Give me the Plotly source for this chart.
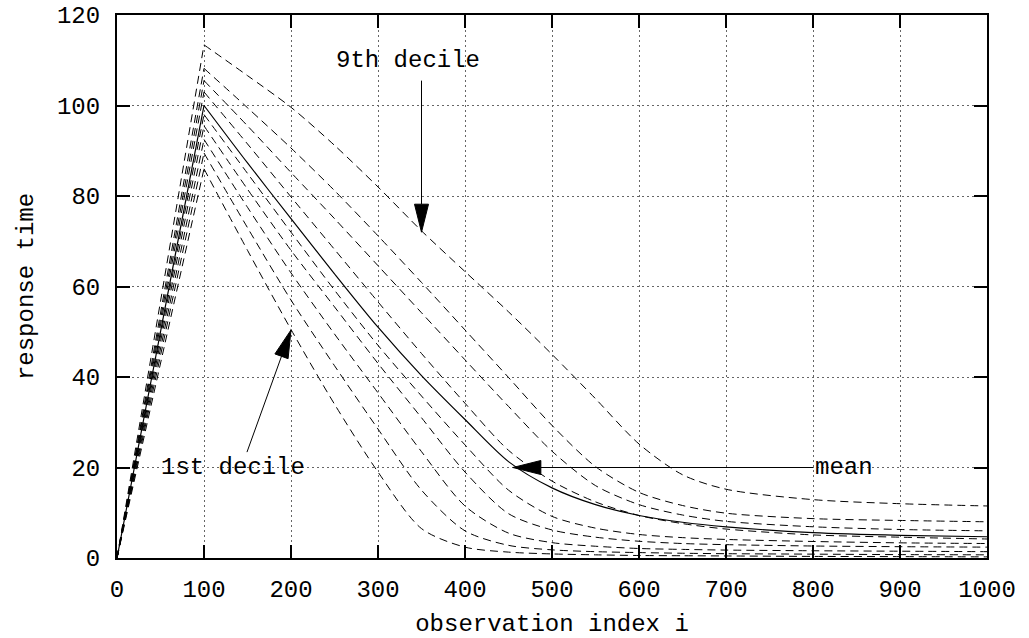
import plotly.graph_objects as go

# observation index grid (x) at which the curves were read
obs_index = [0, 100, 150, 200, 250, 300, 350, 400, 450, 500, 550, 600, 650, 700, 800, 900, 1000]

# deciles (dashed) and mean (solid) of response time
decile_1 = [0, 86, 68, 50.5, 34, 19, 6.5, 2.4, 1.3, 0.9, 0.7, 0.55, 0.5, 0.45, 0.35, 0.3, 0.25]
decile_2 = [0, 89.5, 73, 57, 42.5, 28.5, 15, 6, 2.8, 1.8, 1.4, 1.2, 1.05, 0.95, 0.85, 0.75, 0.7]
decile_3 = [0, 92.5, 77.5, 63, 49.5, 36.5, 23.5, 11.5, 5.5, 3.4, 2.6, 2.1, 1.9, 1.75, 1.6, 1.5, 1.4]
decile_4 = [0, 95.5, 81.5, 68, 55.5, 43, 31, 19, 9.8, 6.2, 4.6, 3.7, 3.2, 2.95, 2.65, 2.5, 2.4]
decile_5 = [0, 98, 85, 72, 59.2, 47, 35.8, 25, 15, 9.2, 6.6, 5.2, 4.5, 4.1, 3.65, 3.35, 3.2]
mean_rt = [0, 100, 87.3, 75, 62.8, 51, 40.3, 30.6, 21.3, 15.5, 11.8, 9.4, 7.9, 6.9, 5.6, 5.0, 4.7]
decile_6 = [0, 103, 91.5, 79.8, 68.2, 56.6, 45.2, 34.2, 23.8, 17, 12.4, 9.4, 7.6, 6.4, 5.1, 4.6, 4.2]
decile_7 = [0, 105.5, 95.5, 85.2, 75, 64.6, 54.2, 43.8, 33.5, 23.6, 16, 11.8, 9.5, 8.1, 6.9, 6.3, 6.0]
decile_8 = [0, 108.2, 99.5, 90.6, 81.2, 71.2, 60.9, 50.4, 39.9, 29.3, 20.2, 14.5, 11.6, 9.9, 8.7, 8.3, 8.0]
decile_9 = [0, 113.4, 106.6, 99.6, 91.2, 82, 72.3, 63.3, 54.4, 45, 35.2, 25.2, 18.4, 15.2, 12.9, 12.0, 11.5]

x_ticks = [0, 100, 200, 300, 400, 500, 600, 700, 800, 900, 1000]
y_ticks = [0, 20, 40, 60, 80, 100, 120]

# annotations: text, text position, arrow tail, arrow tip
ann_texts = ["9th decile", "1st decile", "mean"]
ann_text_xy = [(334.5, 109.9), (133, 20), (800, 20)]
ann_tail_xy = [(350, 105.5), (149.4, 23.4), (800, 20)]
ann_tip_xy = [(350, 72), (200, 50.4), (455, 20)]

FONT = "Liberation Mono, Courier New, monospace"
X_RANGE = [0, 1000]
Y_RANGE = [0, 120]
ML, MR, MT, MB = 117, 42, 15, 80
W, H = 1029, 638
PW, PH = W - ML - MR, H - MT - MB

fig = go.Figure()

deciles = [decile_1, decile_2, decile_3, decile_4, decile_5,
           decile_6, decile_7, decile_8, decile_9]
for d in deciles:
    style = dict(color="black", width=1, dash="8px,5px")
    fig.add_trace(go.Scatter(x=obs_index[:2], y=d[:2], mode="lines",
                             line=style, showlegend=False, hoverinfo="skip"))
    fig.add_trace(go.Scatter(x=obs_index[1:], y=d[1:], mode="lines",
                             line=dict(shape="spline", smoothing=0.8, **style),
                             showlegend=False, hoverinfo="skip"))

fig.add_trace(go.Scatter(x=obs_index[:2], y=mean_rt[:2], mode="lines",
                         line=dict(color="black", width=1.2),
                         showlegend=False, hoverinfo="skip"))
fig.add_trace(go.Scatter(x=obs_index[1:], y=mean_rt[1:], mode="lines",
                         line=dict(color="black", width=1.2, shape="spline", smoothing=0.8),
                         showlegend=False, hoverinfo="skip"))

# arrows drawn as shapes (line + filled triangular head)
sx = PW / (X_RANGE[1] - X_RANGE[0])
sy = PH / (Y_RANGE[1] - Y_RANGE[0])
HEAD_L, HEAD_W = 28, 14
for txt, (tx, ty), (ax_, ay_), (hx, hy) in zip(ann_texts, ann_text_xy, ann_tail_xy, ann_tip_xy):
    dxp = (hx - ax_) * sx
    dyp = (hy - ay_) * sy
    n = (dxp ** 2 + dyp ** 2) ** 0.5
    ux, uy = dxp / n, dyp / n
    bx, by = -ux * HEAD_L, -uy * HEAD_L
    px_, py_ = -uy * HEAD_W / 2, ux * HEAD_W / 2
    c1 = (hx + (bx + px_) / sx, hy + (by + py_) / sy)
    c2 = (hx + (bx - px_) / sx, hy + (by - py_) / sy)
    base = (hx + bx / sx, hy + by / sy)
    fig.add_shape(type="line", x0=ax_, y0=ay_, x1=base[0], y1=base[1],
                  xref="x", yref="y", line=dict(color="black", width=1))
    fig.add_shape(type="path",
                  path=f"M {hx},{hy} L {c1[0]},{c1[1]} L {c2[0]},{c2[1]} Z",
                  xref="x", yref="y", fillcolor="black", line=dict(color="black", width=1))
    fig.add_annotation(x=tx, y=ty, text=txt, showarrow=False,
                       xanchor="left" if txt == "mean" else "center",
                       yanchor="middle", xref="x", yref="y",
                       font=dict(family=FONT, size=24, color="black"), bgcolor="rgba(0,0,0,0)")

axis_common = dict(
    showline=True, linecolor="black", linewidth=2, mirror="ticks",
    ticks="inside", ticklen=13, tickwidth=2, tickcolor="black",
    showgrid=True, gridcolor="#666", gridwidth=1, griddash="2px,3px",
    zeroline=False, automargin=False,
    tickfont=dict(family=FONT, size=24, color="black"),
)

fig.update_xaxes(range=X_RANGE, tickvals=x_ticks, ticktext=[str(v) for v in x_ticks],
                 title=dict(text="observation index i", font=dict(family=FONT, size=24, color="black"),
                            standoff=14),
                 ticklabelstandoff=8, **axis_common)
fig.update_yaxes(range=Y_RANGE, tickvals=y_ticks, ticktext=[str(v) for v in y_ticks],
                 title=dict(text="response time", font=dict(family=FONT, size=24, color="black"),
                            standoff=17),
                 ticklabelstandoff=10, **axis_common)

fig.update_layout(width=W, height=H, margin=dict(l=ML, r=MR, t=MT, b=MB, autoexpand=False),
                  plot_bgcolor="white", paper_bgcolor="white",
                  font=dict(family=FONT, size=24, color="black"))

fig.write_html("out.html")
